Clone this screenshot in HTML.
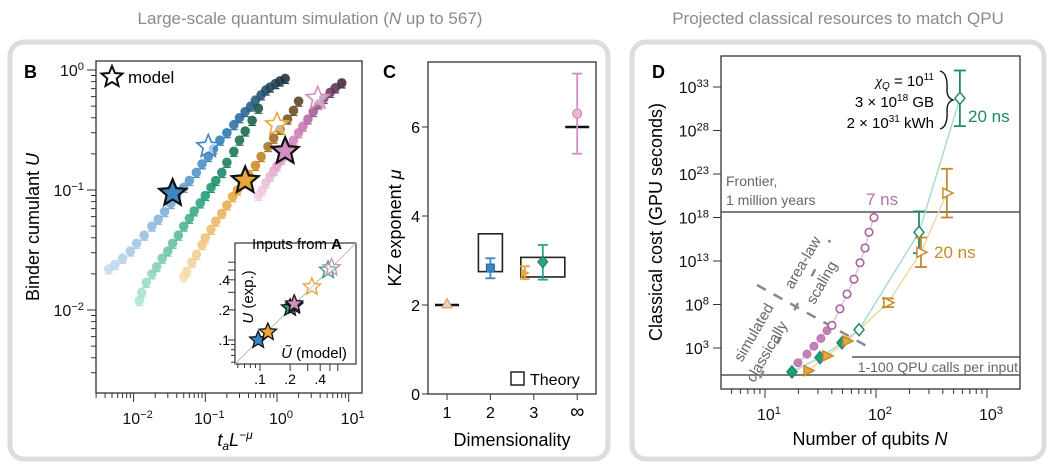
<!DOCTYPE html>
<html><head><meta charset="utf-8">
<style>
html,body{margin:0;padding:0;background:#fff;}
svg{display:block;font-family:"Liberation Sans",sans-serif;}
</style></head>
<body>
<svg id="fig" width="1052" height="471" viewBox="0 0 1052 471" xmlns="http://www.w3.org/2000/svg">
<rect x="10" y="42" width="598" height="417" rx="14" fill="#fff" stroke="#dcdcdc" stroke-width="5"/>
<rect x="632" y="42" width="412" height="417" rx="14" fill="#fff" stroke="#dcdcdc" stroke-width="5"/>
<text x="310" y="24" text-anchor="middle" font-size="17" fill="#8a8a8a">Large-scale quantum simulation (<tspan font-style="italic">N</tspan> up to 567)</text>
<text x="838" y="24" text-anchor="middle" font-size="17" fill="#8a8a8a">Projected classical resources to match QPU</text>
<g id="gB"></g>
<g id="gC"></g>
<g id="gD"></g>
</svg>
<script>
// ---------- Panel B data ----------
const blueX=[0.0045,0.0055,0.007,0.009,0.011,0.014,0.018,0.022,0.027,0.033,0.04,0.05,0.06,0.075,0.09,0.11,0.13,0.16,0.2,0.25,0.3,0.36,0.43,0.5,0.6,0.7,0.8,0.95,1.1,1.3];
const blueY=[0.022,0.024,0.027,0.031,0.036,0.042,0.05,0.057,0.066,0.077,0.09,0.105,0.12,0.14,0.165,0.19,0.22,0.26,0.3,0.35,0.4,0.45,0.5,0.56,0.62,0.68,0.72,0.77,0.81,0.85];
const greenX=[0.012,0.013,0.015,0.018,0.021,0.025,0.03,0.035,0.042,0.05,0.06,0.07,0.085,0.1,0.12,0.14,0.17,0.2,0.25,0.3,0.36,0.45,0.55];
const greenY=[0.012,0.014,0.017,0.02,0.023,0.027,0.031,0.036,0.042,0.05,0.058,0.067,0.078,0.09,0.105,0.12,0.14,0.17,0.21,0.26,0.31,0.38,0.48];
const orangeX=[0.05,0.055,0.065,0.075,0.09,0.1,0.12,0.14,0.17,0.2,0.24,0.28,0.33,0.4,0.5,0.6,0.75,0.9,1.1,1.4,1.7,2.0];
const orangeY=[0.019,0.021,0.025,0.029,0.035,0.04,0.047,0.055,0.064,0.075,0.088,0.1,0.115,0.135,0.16,0.19,0.23,0.27,0.32,0.39,0.46,0.55];
const pinkX=[0.55,0.62,0.7,0.8,0.9,1.0,1.15,1.3,1.5,1.7,2.0,2.3,2.7,3.2,3.8,4.5,5.5,6.5,8];
const pinkY=[0.09,0.1,0.115,0.13,0.145,0.16,0.18,0.2,0.23,0.26,0.3,0.34,0.39,0.45,0.52,0.58,0.65,0.71,0.78];
const starModelX=[0.035,0.36,1.3];
const starModelY=[0.094,0.12,0.21];
const starHollowX=[0.11,1.0,3.7];
const starHollowY=[0.23,0.35,0.58];
const insetModel=[0.096,0.12,0.2,0.22,0.22,0.33,0.48,0.52];
const insetExp=[0.1,0.12,0.21,0.22,0.23,0.34,0.5,0.53];
// ---------- Panel C data ----------
const cCats=["1","2","3","∞"];
const cVals=[2.03,2.83,2.72,2.97,6.3];
const cCatIdx=[0,1,2,2,3];
const cErrLo=[2.03,2.6,2.58,2.57,5.4];
const cErrHi=[2.03,3.05,2.87,3.35,7.2];
const cTheoryLo=[2.0,2.75,2.63,6.0];
const cTheoryHi=[2.0,3.6,3.07,6.0];
const cTicks=[0,2,4,6];
// ---------- Panel D data ----------
const pinkN=[19.8,23.9,27.6,31.9,36.2,40.1,47.3,54.8,63.3,71.8,79.6,86.5,95.9];
const pinkCost=[1.3,2.3,3.2,4.1,5.0,5.6,7.5,9.2,10.9,12.8,14.5,16.3,18.0]; // log10
const greenN=[17.5,31.3,49.4,70.3,244,570];
const greenCost=[0.25,1.9,3.6,5.1,16.3,31.7];
const greenErr=[0,0,0,0,2.4,3.2];
const orangeN=[24.4,36.2,54.8,128,254,435];
const orangeCost=[0.4,2.1,3.8,8.2,14.0,20.8];
const orangeErr=[0,0,0,0.5,1.7,2.8];
const dYTicks=[3,8,13,18,23,28,33];

const NS="http://www.w3.org/2000/svg";
function el(tag,attrs,parent,txt){const e=document.createElementNS(NS,tag);for(const k in attrs)e.setAttribute(k,attrs[k]);if(txt!==undefined)e.textContent=txt;parent.appendChild(e);return e;}
function lerpColor(a,b,t){const pa=[1,3,5].map(i=>parseInt(a.substr(i,2),16)),pb=[1,3,5].map(i=>parseInt(b.substr(i,2),16));return "rgb("+pa.map((v,i)=>Math.round(v+(pb[i]-v)*t)).join(",")+")";}
function ramp3(a,m,b,t){return t<0.6?lerpColor(a,m,t/0.6):lerpColor(m,b,(t-0.6)/0.4);}
function starPts(cx,cy,R){const r=R*0.45;let p=[];for(let i=0;i<10;i++){const a=-Math.PI/2+i*Math.PI/5;const rr=i%2?r:R;p.push((cx+rr*Math.cos(a)).toFixed(1)+","+(cy+rr*Math.sin(a)).toFixed(1));}return p.join(" ");}
function supText(parent,x,y,base,exp,size,anchor,nameStr){const t=el("text",{x:x,y:y,"font-size":size,"text-anchor":anchor||"end",fill:"#111"},parent);


el("tspan",{},t,base);el("tspan",{dy:-6,"font-size":size*0.7},t,exp);return t;}

// ================= Panel B =================
(function(){
const g=document.getElementById("gB");
const L=96,R=362,T=61,B=393;
const xs=v=>277+71.7*Math.log10(v);
const ys=v=>70-120*Math.log10(v);
el("rect",{x:L,y:T,width:R-L,height:B-T,fill:"none",stroke:"#333","stroke-width":1.3},g);
const lb=el("text",{x:24,y:78,"font-size":18,"font-weight":"bold"},g,"B");

for(let d=-3;d<=0;d++){for(let m=1;m<10;m++){const v=Math.pow(10,d)*m;const y=ys(v);if(y<T||y>B)continue;
el("line",{x1:L,x2:L-(m==1?9:5),y1:y,y2:y,stroke:"#333","stroke-width":1},g);}}
[-2,-1,0].forEach(d=>{supText(g,84,ys(Math.pow(10,d))+6,"10",d==0?"0":"−"+(-d),16,"end","y-tick-label-b");});
for(let d=-3;d<=1;d++){for(let m=1;m<10;m++){const v=Math.pow(10,d)*m;const x=xs(v);if(x<L||x>R)continue;
el("line",{x1:x,x2:x,y1:B,y2:B+(m==1?9:5),stroke:"#333","stroke-width":1},g);}}
[-2,-1,0,1].forEach(d=>{supText(g,xs(Math.pow(10,d))+4,424,"10",d>=0?String(d):"−"+(-d),16,"middle","x-tick-label-b");});
const yl=el("text",{x:0,y:0,"font-size":18,"text-anchor":"middle",transform:"translate(39,227) rotate(-90)"},g);

el("tspan",{},yl,"Binder cumulant ");el("tspan",{"font-style":"italic"},yl,"U");
const xl=el("text",{x:235,y:446,"font-size":18,"text-anchor":"middle"},g);

el("tspan",{"font-style":"italic"},xl,"t");el("tspan",{"font-style":"italic","font-size":12,dy:4},xl,"a");el("tspan",{"font-style":"italic",dy:-4},xl,"L");el("tspan",{"font-style":"italic","font-size":12,dy:-7},xl,"−μ");
const series=[[blueX,blueY,"#c4dcef","#2f7dbd","#22343f"],[greenX,greenY,"#b3e6d3","#1f9e78","#1c5a44"],[orangeX,orangeY,"#f8deb2","#e29a2a","#5e4426"],[pinkX,pinkY,"#f3d0e6","#cc79b4","#4a2c44"]];
series.forEach(([X,Y,c0,cm,c1])=>{X.forEach((xv,i)=>{const t=i/(X.length-1);const c=ramp3(c0,cm,c1,t);const cx=xs(xv),cy=ys(Y[i]);
el("line",{x1:cx-4,x2:cx+4,y1:cy+5,y2:cy+5,stroke:c,"stroke-width":1.2},g);
const m=el("circle",{cx:cx,cy:cy,r:4.8,fill:c,"fill-opacity":0.9},g);
});});
const sc=["#3d86c4","#e7a73d","#d58cc1"];
starModelX.forEach((xv,i)=>{const s=el("polygon",{points:starPts(xs(xv),ys(starModelY[i]),14),fill:sc[i],stroke:"#111","stroke-width":2.2},g);
});
starHollowX.forEach((xv,i)=>{const s=el("polygon",{points:starPts(xs(xv),ys(starHollowY[i]),12),fill:"#fff","fill-opacity":0.5,stroke:sc[i],"stroke-width":1.6},g);
});
el("polygon",{points:starPts(112,77,11),fill:"none",stroke:"#111","stroke-width":2},g);
const lt=el("text",{x:128,y:83,"font-size":17},g,"model");
const iL=235,iR=356,iT=243,iB=364;
const ix=v=>260+100*Math.log10(v/0.1), iy=v=>340-100*Math.log10(v/0.1);
el("rect",{x:iL,y:iT,width:iR-iL,height:iB-iT,fill:"#fff",stroke:"#333","stroke-width":1.2},g);
el("line",{x1:iL,y1:iB,x2:iR,y2:iT,stroke:"#bbb","stroke-width":1},g);
for(let m=4;m<=60;m+=(m<10?1:10)){const v=m/100;const x=ix(v),y=iy(v);
if(x>=iL&&x<=iR)el("line",{x1:x,x2:x,y1:iB,y2:iB+(m%10==0?7:4),stroke:"#333"},g);
if(y>=iT&&y<=iB)el("line",{x1:iL,x2:iL-(m%10==0?7:4),y1:y,y2:y,stroke:"#333"},g);}
[[0.1,".1"],[0.2,".2"],[0.4,".4"]].forEach(([v,s])=>{const a=el("text",{x:ix(v),y:iB+20,"font-size":14,"text-anchor":"middle"},g,s);
const b=el("text",{x:iL-5,y:iy(v)+5,"font-size":14,"text-anchor":"end"},g,s);});
const ititle=el("text",{x:297,y:249,"font-size":15,"text-anchor":"middle"},g);
el("tspan",{},ititle,"Inputs from ");el("tspan",{"font-weight":"bold"},ititle,"A");
const iyl=el("text",{x:0,y:0,"font-size":15,"text-anchor":"middle",transform:"translate(253,297) rotate(-90)"},g);
el("tspan",{"font-style":"italic"},iyl,"U");el("tspan",{},iyl," (exp.)");
const ixl=el("text",{x:314,y:358,"font-size":15,"text-anchor":"middle"},g);
el("tspan",{"font-style":"italic"},ixl,"Ũ");el("tspan",{},ixl," (model)");
const ic=[["#3d86c4",1],["#e7a73d",1],["#2aa57f",1],["#3d86c4",1],["#d58cc1",1],["#e7a73d",0],["#2aa57f",0],["#d58cc1",0]];
insetModel.forEach((v,i)=>{const [c,f]=ic[i];const s=el("polygon",{points:starPts(ix(v),iy(insetExp[i]),9),fill:f?c:"#fff","fill-opacity":f?1:0.3,stroke:f?"#111":c,"stroke-width":f?1.3:1.4},g);
});
})();

// ================= Panel C =================
(function(){
const g=document.getElementById("gC");
const L=428,R=596,T=62,B=394;
const ys=v=>394-44.5*v; const xs=i=>447+43.4*i;
el("rect",{x:L,y:T,width:R-L,height:B-T,fill:"none",stroke:"#333","stroke-width":1.3},g);
const lb=el("text",{x:383,y:78,"font-size":18,"font-weight":"bold"},g,"C");
cTicks.forEach(v=>{el("line",{x1:L,x2:L-6,y1:ys(v),y2:ys(v),stroke:"#333"},g);
const t=el("text",{x:L-8,y:ys(v)+6,"font-size":16,"text-anchor":"end"},g,String(v));});
cCats.forEach((c,i)=>{el("line",{x1:xs(i),x2:xs(i),y1:B,y2:B+6,stroke:"#333"},g);
const t=el("text",{x:xs(i),y:B+24,"font-size":c=="∞"?20:16,"text-anchor":"middle"},g,c);});
const yl=el("text",{x:0,y:0,"font-size":18,"text-anchor":"middle",transform:"translate(401,228) rotate(-90)"},g);
el("tspan",{},yl,"KZ exponent ");el("tspan",{"font-style":"italic"},yl,"μ");
const xl=el("text",{x:512,y:446,"font-size":18,"text-anchor":"middle"},g,"Dimensionality");
const tw=[12,12,22,12], toff=[0,0,9,0];
cTheoryLo.forEach((lo,i)=>{const hi=cTheoryHi[i];const cx=xs(i)+toff[i];
if(hi-lo<0.01){const l=el("line",{x1:cx-tw[i],x2:cx+tw[i],y1:ys(lo),y2:ys(lo),stroke:"#111","stroke-width":2.5},g);}
else{const r=el("rect",{x:cx-tw[i],y:ys(hi),width:2*tw[i],height:ys(lo)-ys(hi),fill:"none",stroke:"#222","stroke-width":1.6},g);}});
const cc=["#d9a77a","#3d86c4","#e7a73d","#2aa57f","#d58cc1"], off=[0,0,-9,9,0];
cVals.forEach((v,i)=>{const cx=xs(cCatIdx[i])+off[i];
if(cErrHi[i]-cErrLo[i]>0.01){el("line",{x1:cx,x2:cx,y1:ys(cErrLo[i]),y2:ys(cErrHi[i]),stroke:cc[i],"stroke-width":1.8},g);
[cErrLo[i],cErrHi[i]].forEach(e=>el("line",{x1:cx-5,x2:cx+5,y1:ys(e),y2:ys(e),stroke:cc[i],"stroke-width":1.8},g));}
let m;
if(i==0)m=el("polygon",{points:`${cx-5},${ys(v)+4} ${cx+5},${ys(v)+4} ${cx},${ys(v)-5}`,fill:"#f0d3b5",stroke:cc[i],"stroke-width":1.3},g);
else if(i==1)m=el("rect",{x:cx-4,y:ys(v)-4,width:8,height:8,fill:cc[i],stroke:"#23639a","stroke-width":1},g);
else if(i==2)m=el("polygon",{points:`${cx-4},${ys(v)-5} ${cx-4},${ys(v)+5} ${cx+5},${ys(v)}`,fill:cc[i]},g);
else if(i==3)m=el("polygon",{points:`${cx},${ys(v)-6} ${cx+5},${ys(v)} ${cx},${ys(v)+6} ${cx-5},${ys(v)}`,fill:cc[i],stroke:"#1b7a5c"},g);
else m=el("circle",{cx:cx,cy:ys(v),r:4.5,fill:"#e7b8d8",stroke:cc[i],"stroke-width":1.3},g);
});
el("rect",{x:511,y:372,width:13,height:13,fill:"none",stroke:"#222","stroke-width":1.5},g);
const lt=el("text",{x:530,y:385,"font-size":16},g,"Theory");
})();

// ================= Panel D =================
(function(){
const g=document.getElementById("gD");
const L=721,R=1020,T=56,B=389;
const xs=n=>765+111*(Math.log10(n)-1); const ys=c=>348-8.7*(c-3);
el("rect",{x:L,y:T,width:R-L,height:B-T,fill:"none",stroke:"#333","stroke-width":1.3},g);
const lb=el("text",{x:652,y:78,"font-size":18,"font-weight":"bold"},g,"D");
dYTicks.forEach(v=>{el("line",{x1:L,x2:L-8,y1:ys(v),y2:ys(v),stroke:"#333"},g);supText(g,L-12,ys(v)+6,"10",String(v),16,"end","y-tick-label-d");});
for(let d=0;d<=3;d++)for(let m=1;m<10;m++){const x=xs(Math.pow(10,d)*m);if(x<L||x>R)continue;el("line",{x1:x,x2:x,y1:B,y2:B+(m==1?9:5),stroke:"#333"},g);}
[1,2,3].forEach(d=>supText(g,xs(Math.pow(10,d))+4,420,"10",String(d),16,"middle","x-tick-label-d"));
const yl=el("text",{x:0,y:0,"font-size":18,"text-anchor":"middle",transform:"translate(662,222) rotate(-90)"},g,"Classical cost (GPU seconds)");
const xl=el("text",{x:870,y:445,"font-size":18,"text-anchor":"middle"},g);
el("tspan",{},xl,"Number of qubits ");el("tspan",{"font-style":"italic"},xl,"N");
el("line",{x1:L,x2:R,y1:212,y2:212,stroke:"#555","stroke-width":1.4},g);
el("line",{x1:L,x2:R,y1:375,y2:375,stroke:"#555","stroke-width":1.4},g);
el("line",{x1:852,x2:R,y1:357,y2:357,stroke:"#555","stroke-width":1.4},g);
[["Frontier,",726,186],["1 million years",726,205]].forEach(([s,x,y])=>{const t=el("text",{x:x,y:y,"font-size":14,fill:"#666"},g,s);});
const q=el("text",{x:1018,y:372,"font-size":14,fill:"#666","text-anchor":"end"},g,"1-100 QPU calls per input");
el("line",{x1:757,y1:285,x2:872,y2:349,stroke:"#888","stroke-width":2.5,"stroke-dasharray":"10,9"},g);
el("line",{x1:760,y1:378,x2:830,y2:240,stroke:"#888","stroke-width":2.5,"stroke-dasharray":"8,30"},g);
[["simulated",758,335],["classically",771,354],["area-law",807,265],["scaling",826,285]].forEach(([s,x,y])=>{const t=el("text",{x:0,y:0,"font-size":15,fill:"#666","text-anchor":"middle",transform:`translate(${x},${y}) rotate(-60)`},g,s);});
const line=(X,Y,c,nm)=>{const p=el("polyline",{points:X.map((n,i)=>xs(n)+","+ys(Y[i])).join(" "),fill:"none",stroke:c,"stroke-width":1.5},g);};
line(pinkN,pinkCost,"#e3c3dc","fit-line-7ns");
line(greenN,greenCost,"#a9dcc9","fit-line-green");
line(orangeN,orangeCost,"#f4d5a5","fit-line-orange");
pinkN.forEach((n,i)=>{const filled=i<5;const m=el("circle",{cx:xs(n),cy:ys(pinkCost[i]),r:filled?4.2:3.8,fill:filled?"#c77fb7":"#fff",stroke:"#a864a0","stroke-width":filled?0.5:1.6},g);});
const err=(x,y,e,c)=>{if(!e)return;el("line",{x1:x,x2:x,y1:ys(y-e),y2:ys(y+e),stroke:c,"stroke-width":1.8},g);[y-e,y+e].forEach(v=>el("line",{x1:x-6,x2:x+6,y1:ys(v),y2:ys(v),stroke:c,"stroke-width":1.8},g));};
greenN.forEach((n,i)=>{const x=xs(n),y=ys(greenCost[i]);err(x,greenCost[i],greenErr[i],"#1f8a66");const f=i<3;
const m=el("polygon",{points:`${x},${y-6} ${x+5},${y} ${x},${y+6} ${x-5},${y}`,fill:f?"#1f9e78":"#fff",stroke:"#1f8a66","stroke-width":1.5},g);});
orangeN.forEach((n,i)=>{const x=xs(n),y=ys(orangeCost[i]);err(x,orangeCost[i],orangeErr[i],"#c48a2a");const f=i<3;
const m=el("polygon",{points:`${x-4},${y-5} ${x-4},${y+5} ${x+6},${y}`,fill:f?"#e7a73d":"#fff",stroke:"#c48a2a","stroke-width":1.5},g);});
const l7=el("text",{x:866,y:205,"font-size":17,fill:"#b86fae"},g,"7 ns");
const l20o=el("text",{x:934,y:258,"font-size":17,fill:"#c48a2a"},g,"20 ns");
const l20g=el("text",{x:968,y:122,"font-size":17,fill:"#1f8a66"},g,"20 ns");
const a1=el("text",{x:934,y:86,"font-size":15,"text-anchor":"end"},g);
el("tspan",{"font-style":"italic","font-family":"Liberation Serif"},a1,"χ");el("tspan",{"font-style":"italic","font-size":10,dy:3},a1,"Q");el("tspan",{dy:-3},a1," = 10");el("tspan",{"font-size":10,dy:-6},a1,"11");
const a2=el("text",{x:934,y:107,"font-size":15,"text-anchor":"end"},g);
el("tspan",{},a2,"3 × 10");el("tspan",{"font-size":10,dy:-6},a2,"18");el("tspan",{dy:6},a2," GB");
const a3=el("text",{x:934,y:128,"font-size":15,"text-anchor":"end"},g);
el("tspan",{},a3,"2 × 10");el("tspan",{"font-size":10,dy:-6},a3,"31");el("tspan",{dy:6},a3," kWh");
el("path",{d:"M940,71 Q948,73 947,90 Q947,98 953,100 Q947,102 947,110 Q948,127 940,129",fill:"none",stroke:"#111","stroke-width":1.4},g);
})();
</script>
</body></html>
